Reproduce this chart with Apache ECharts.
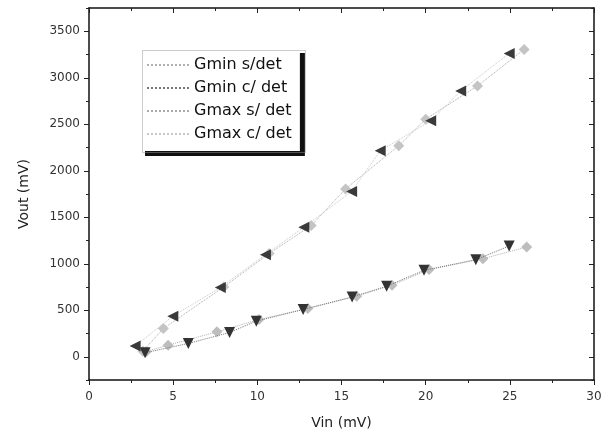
<!DOCTYPE html>
<html><head><meta charset="utf-8">
<script src="https://cdn.jsdelivr.net/npm/echarts@6/dist/echarts.min.js"></script>
<style>html,body{margin:0;padding:0;background:#fff}#c{width:615px;height:437px}</style>
</head><body><div id="c"></div>
<script>
const seriesNames = ['Gmin s/det', 'Gmin c/ det', 'Gmax s/ det', 'Gmax c/ det'];
const xGminS = [3.4, 4.7, 7.6, 10.1, 13.0, 15.9, 18.0, 20.2, 23.4, 26.0];
const yGminS = [55, 125, 268, 400, 520, 650, 770, 937, 1054, 1180];
const xGminC = [3.33, 5.9, 8.35, 9.94, 12.72, 15.63, 17.68, 19.9, 22.98, 24.96];
const yGminC = [43, 143, 261, 383, 508, 643, 758, 929, 1044, 1190];
const xGmaxS = [3.2, 4.42, 8.0, 10.7, 13.2, 15.24, 18.4, 20.0, 23.08, 25.85];
const yGmaxS = [60, 304, 750, 1110, 1410, 1805, 2269, 2555, 2912, 3305];
const xGmaxC = [2.74, 4.98, 7.8, 10.48, 12.76, 15.6, 17.3, 20.3, 22.08, 24.96];
const yGmaxC = [115, 436, 744, 1097, 1393, 1776, 2215, 2537, 2858, 3262];
const xTicks = [0, 5, 10, 15, 20, 25, 30];
const xMinorTicks = [2.5, 7.5, 12.5, 17.5, 22.5, 27.5];
const yTicks = [0, 500, 1000, 1500, 2000, 2500, 3000, 3500];
const yMinorTicks = [-250, 250, 750, 1250, 1750, 2250, 2750, 3250, 3750];

const zip = (xs, ys) => xs.map((x, i) => [x, ys[i]]);
const chart = echarts.init(document.getElementById('c'));
const font = 'DejaVu Sans, sans-serif';
function mk(name, xs, ys, sym, rot, col, lineCol, z) {
  return {
    name, type: 'line', data: zip(xs, ys), symbol: sym, symbolRotate: rot, symbolSize: 11,
    itemStyle: { color: col }, lineStyle: { color: lineCol, width: 1, type: 'dotted' }, z
  };
}
function axis(kind, pos, opts) {
  const isX = kind === 'x';
  const base = {
    type: 'value', position: pos,
    min: isX ? 0 : -250, max: isX ? 30 : 3750, interval: isX ? 2.5 : 250,
    splitLine: { show: false }, minorTick: { show: false },
    axisLine: { show: true, onZero: false, lineStyle: { color: '#111', width: 1.5 } },
    axisTick: { show: true, inside: !!opts.inside, length: opts.len,
      customValues: opts.ticks, lineStyle: { color: '#222', width: 1 } },
    axisLabel: { show: false }
  };
  if (opts.labels) {
    base.axisLabel = { show: true, customValues: opts.labels, fontFamily: font, fontSize: 12,
      color: '#333', margin: isX ? 11 : 9, formatter: v => String(v) };
  }
  if (opts.hideLine) base.axisLine.show = false;
  return Object.assign(base, opts.extra || {});
}
chart.setOption({
  animation: false,
  backgroundColor: '#fff',
  grid: { left: 89, right: 21, top: 8, bottom: 57 },
  legend: {
    data: seriesNames,
    orient: 'vertical', left: 140, top: 48, padding: [9, 8, 9, 6],
    itemWidth: 42, itemHeight: 10, itemGap: 7,
    backgroundColor: '#fff', borderWidth: 0,
    shadowColor: '#111', shadowBlur: 0, shadowOffsetX: 5, shadowOffsetY: 5,
    itemStyle: { opacity: 0 },
    textStyle: { fontFamily: font, fontSize: 16, color: '#111' }
  },
  graphic: [{
    type: 'rect', left: 140, top: 48, z: 100, silent: true,
    shape: { width: 163, height: 102 },
    style: { fill: 'none', stroke: '#999', lineWidth: 1, lineDash: [1, 1] }
  }],
  xAxis: [
    axis('x', 'bottom', { len: 5, ticks: xTicks, labels: xTicks, extra: {
      name: 'Vin (mV)', nameLocation: 'middle', nameGap: 36,
      nameTextStyle: { fontFamily: font, fontSize: 14, color: '#222' } } }),
    axis('x', 'bottom', { len: 3, ticks: xMinorTicks, hideLine: true }),
    axis('x', 'top', { len: 5, ticks: xTicks, inside: true }),
    axis('x', 'top', { len: 3, ticks: xMinorTicks, inside: true, hideLine: true })
  ],
  yAxis: [
    axis('y', 'left', { len: 5, ticks: yTicks, labels: yTicks, extra: {
      name: 'Vout (mV)', nameLocation: 'middle', nameGap: 58, nameRotate: 90,
      nameTextStyle: { fontFamily: font, fontSize: 14, color: '#222' } } }),
    axis('y', 'left', { len: 3, ticks: yMinorTicks, hideLine: true }),
    axis('y', 'right', { len: 5, ticks: yTicks, inside: true }),
    axis('y', 'right', { len: 3, ticks: yMinorTicks, inside: true, hideLine: true })
  ],
  series: [
    mk(seriesNames[0], xGminS, yGminS, 'diamond', 0, '#bdbdbd', '#b0b0b0', 2),
    mk(seriesNames[1], xGminC, yGminC, 'triangle', 180, '#333', '#777', 3),
    mk(seriesNames[2], xGmaxS, yGmaxS, 'diamond', 0, '#c4c4c4', '#aaa', 2),
    mk(seriesNames[3], xGmaxC, yGmaxC, 'triangle', 90, '#3a3a3a', '#c8c8c8', 3)
  ]
});
</script></body></html>
